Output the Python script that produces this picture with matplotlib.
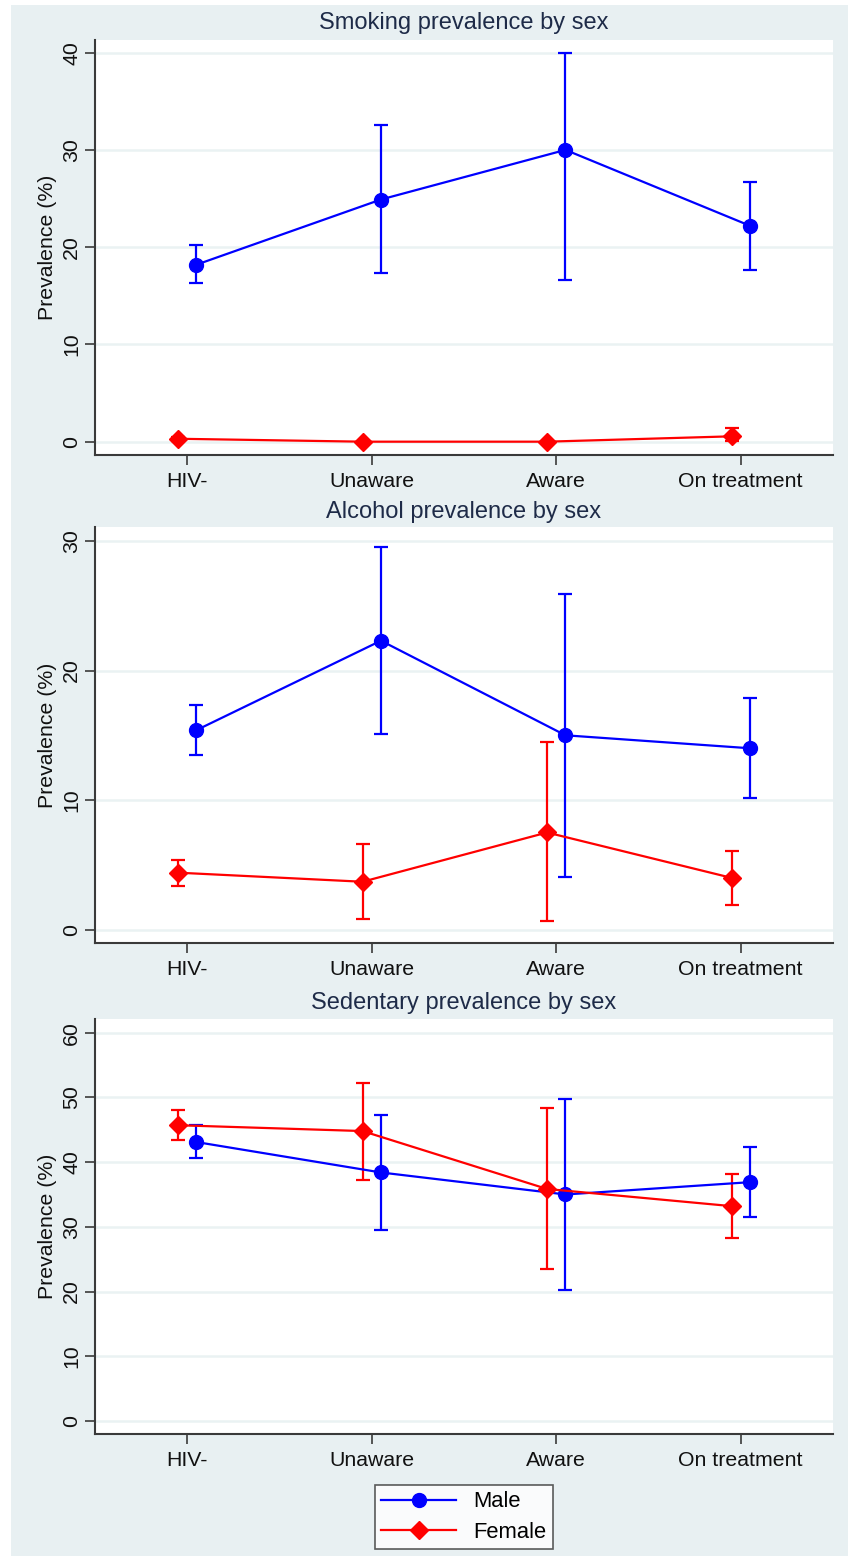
import matplotlib
matplotlib.use("Agg")
import matplotlib.pyplot as plt
from matplotlib.patches import Rectangle
from matplotlib.lines import Line2D
import numpy as np

plt.rcParams['font.family'] = ['Liberation Sans', 'DejaVu Sans']

categories = ["HIV-", "Unaware", "Aware", "On treatment"]

# Smoking
smoke_male = [18.2, 24.9, 30.0, 22.2]
smoke_male_lo = [16.3, 17.3, 16.6, 17.7]
smoke_male_hi = [20.2, 32.6, 40.0, 26.7]
smoke_female = [0.3, 0.0, 0.0, 0.55]
smoke_female_lo = [0.1, 0.0, 0.0, 0.1]
smoke_female_hi = [0.5, 0.0, 0.0, 1.4]

# Alcohol
alc_male = [15.4, 22.3, 15.0, 14.0]
alc_male_lo = [13.5, 15.1, 4.1, 10.2]
alc_male_hi = [17.3, 29.5, 25.9, 17.9]
alc_female = [4.4, 3.7, 7.5, 4.0]
alc_female_lo = [3.4, 0.8, 0.65, 1.9]
alc_female_hi = [5.35, 6.6, 14.45, 6.05]

# Sedentary
sed_male = [43.1, 38.4, 35.0, 36.9]
sed_male_lo = [40.6, 29.5, 20.3, 31.5]
sed_male_hi = [45.7, 47.3, 49.7, 42.4]
sed_female = [45.7, 44.8, 35.85, 33.2]
sed_female_lo = [43.4, 37.3, 23.5, 28.3]
sed_female_hi = [48.1, 52.2, 48.3, 38.2]

titles = ["Smoking prevalence by sex", "Alcohol prevalence by sex", "Sedentary prevalence by sex"]
yticks_list = [[0, 10, 20, 30, 40], [0, 10, 20, 30], [0, 10, 20, 30, 40, 50, 60]]
ylims = [(-1.37, 41.3), (-1.05, 31.05), (-2.06, 62.07)]

panels = [
    (smoke_male, smoke_male_lo, smoke_male_hi, smoke_female, smoke_female_lo, smoke_female_hi),
    (alc_male, alc_male_lo, alc_male_hi, alc_female, alc_female_lo, alc_female_hi),
    (sed_male, sed_male_lo, sed_male_hi, sed_female, sed_female_lo, sed_female_hi),
]

W, H = 848, 1556
fig = plt.figure(figsize=(W / 100, H / 100), dpi=100)
fig.patch.set_facecolor('white')
bg = '#e8f0f2'
fig.patches.append(Rectangle((11 / W, 0), 1 - 11 / W, 1 - 5 / H, transform=fig.transFigure,
                             facecolor=bg, edgecolor='none', zorder=-10))

axes_px = [(40, 455), (527.3, 943.3), (1019.3, 1434.3)]
left_px, right_px = 95, 833
title_y = [23, 512, 1003]

title_color = '#1e2b48'
axis_color = '#3a3a3a'
grid_color = '#eaf2f3'
fs = 15.3

x = np.arange(len(categories))
off = 0.05
for i, (top, bot) in enumerate(axes_px):
    ax = fig.add_axes([left_px / W, 1 - bot / H, (right_px - left_px) / W, (bot - top) / H])
    ax.set_facecolor('white')
    m, mlo, mhi, f, flo, fhi = panels[i]
    m = np.array(m); f = np.array(f)
    ax.errorbar(x + off, m, yerr=[m - np.array(mlo), np.array(mhi) - m], color='#0000ff',
                marker='o', markersize=10, lw=1.6, elinewidth=1.6, capsize=5, capthick=1.6, zorder=3)
    ax.errorbar(x - off, f, yerr=[f - np.array(flo), np.array(fhi) - f], color='#ff0000',
                marker='D', markersize=9, lw=1.6, elinewidth=1.6, capsize=5, capthick=1.6, zorder=3)
    ax.set_xlim(-0.5, 3.5)
    ax.set_ylim(*ylims[i])
    ax.set_xticks(x)
    ax.set_xticklabels(categories, fontsize=fs, color='#111111')
    ax.set_yticks(yticks_list[i])
    ax.set_yticklabels([str(t) for t in yticks_list[i]], rotation=90, va='center', fontsize=fs, color='#111111')
    ax.grid(axis='y', color=grid_color, lw=1.8, zorder=0)
    ax.set_axisbelow(True)
    for s in ['top', 'right']:
        ax.spines[s].set_visible(False)
    for s in ['left', 'bottom']:
        ax.spines[s].set_color(axis_color)
        ax.spines[s].set_linewidth(1.5)
    ax.tick_params(axis='both', color=axis_color, width=1.2, length=7)
    ax.tick_params(axis='x', pad=5)
    ax.tick_params(axis='y', pad=3)
    ax.set_ylabel("Prevalence (%)", fontsize=fs, color='#111111', labelpad=4)
    fig.text(464 / W, 1 - title_y[i] / H, titles[i], ha='center', va='center', fontsize=17, color=title_color)

# legend
handles = [Line2D([0], [0], color='#0000ff', marker='o', markersize=10, lw=1.6),
           Line2D([0], [0], color='#ff0000', marker='D', markersize=9, lw=1.6)]
leg = fig.legend(handles, ["Male", "Female"], loc='center', bbox_to_anchor=(464 / W, 1 - 1517 / H),
                 fontsize=15.8, frameon=True, fancybox=False, handlelength=3.4, borderpad=0.3,
                 labelspacing=0.42, handletextpad=0.8, borderaxespad=0)
leg.get_frame().set_edgecolor('#333333')
leg.get_frame().set_linewidth(1.2)
leg.get_frame().set_facecolor('white')

fig.savefig("out.png", dpi=100, facecolor=fig.get_facecolor())
